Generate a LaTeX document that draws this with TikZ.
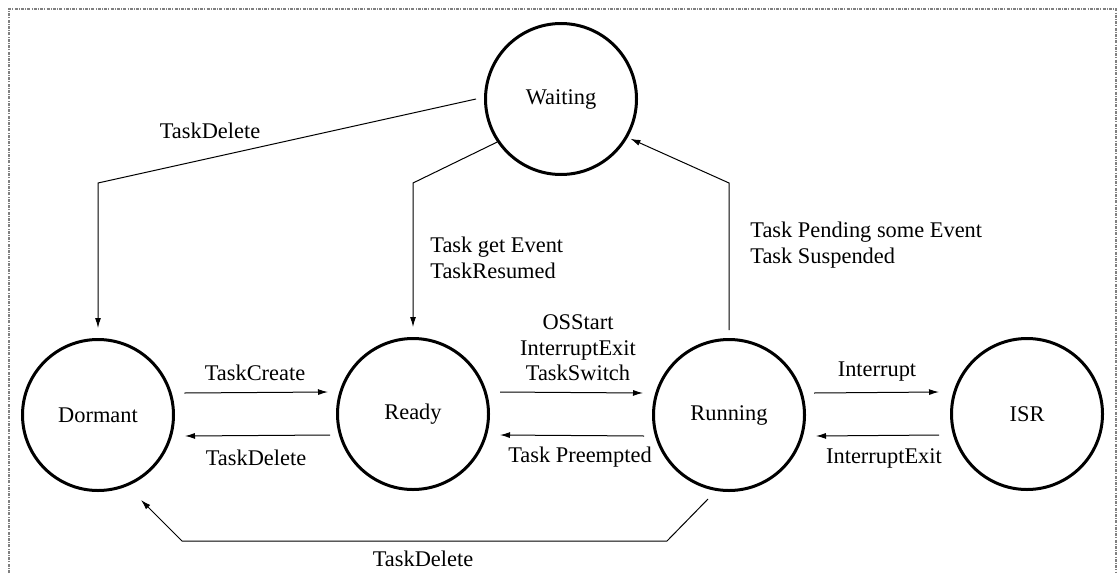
\documentclass[tikz,border=0pt]{standalone}
\usepackage{fontspec}
\setmainfont{Liberation Serif}
\usetikzlibrary{arrows.meta}
\begin{document}
\begin{tikzpicture}[
x=0.5pt,y=-0.5pt,
font=\fontsize{11.2}{12.8}\selectfont,
state/.style={draw,circle,line width=1.5pt,minimum size=75.5pt,inner sep=0pt},
trans/.style={line width=0.5pt,-{Latex[length=5pt,width=3pt]}},
lbl/.style={inner sep=1pt},
frame/.style={gray,line width=0.8pt,dash pattern=on 1.5pt off 0.6pt on 0.5pt off 0.6pt}
]
\useasboundingbox (0,0) rectangle (1118,573);
\draw[frame] (9,573) -- (9,9) -- (1116,9) -- (1116,573);

% states
\node[state] (waiting) at (561,99) {Waiting};
\node[state] (dormant) at (98,415) {Dormant};
\node[state] (ready) at (413,414) {Ready};
\node[state] (running) at (729,415) {Running};
\node[state] (isr) at (1027,414) {ISR};

% corners of the bent connectors
\coordinate (kdel) at (98,183);
\coordinate (kget) at (413,183);
\coordinate (kpend) at (729,183);
\coordinate (kbotr) at (667,541);
\coordinate (kbotl) at (182,541);

% connectors
\draw[trans] ([xshift=-4pt]waiting.west) -- (kdel) -- ([yshift=5pt]dormant.north);
\draw[trans] (waiting.214) -- (kget) -- ([yshift=5pt]ready.north);
\draw[trans,shorten >=1.5pt] ([yshift=4pt]running.north) -- (kpend) -- (waiting.330);
\draw[trans] ([xshift=4.7pt,yshift=11pt]dormant.east) -- ([xshift=-4pt,yshift=11pt]ready.west);
\draw[trans] ([xshift=-3pt,yshift=-10.5pt]ready.west) -- ([xshift=5pt,yshift=-10.5pt]dormant.east);
\draw[trans] ([xshift=5pt,yshift=11pt]ready.east) -- ([xshift=-4.5pt,yshift=11pt]running.west);
\draw[trans] ([xshift=-4pt,yshift=-10.5pt]running.west) -- ([xshift=5pt,yshift=-10.5pt]ready.east);
\draw[trans] ([xshift=4pt,yshift=11pt]running.east) -- ([xshift=-5.5pt,yshift=11pt]isr.west);
\draw[trans] ([xshift=-5.5pt,yshift=-10.5pt]isr.west) -- ([xshift=5pt,yshift=-10.5pt]running.east);
\draw[trans] ([xshift=-10.5pt,yshift=-3.5pt]running.south) -- (kbotr) -- (kbotl)
  -- ([xshift=21.5pt,yshift=-4pt]dormant.south);

% labels
\node[lbl] (ldelw) at (210,131) {TaskDelete};
\node[lbl,anchor=west,align=left] (lget) at (428,258) {Task get Event\\TaskResumed};
\node[lbl,anchor=west,align=left] (lpend) at (748,245) {Task Pending some Event\\Task Suspended};
\node[lbl] (lcreate) at (255,373) {TaskCreate};
\node[lbl] (ldelr) at (256,458) {TaskDelete};
\node[lbl,align=center] (lstart) at (578,348) {OSStart\\InterruptExit\\TaskSwitch};
\node[lbl] (lpre) at (580,457) {Task Preempted};
\node[lbl] (lint) at (877,372) {Interrupt};
\node[lbl] (lexit) at (884,458) {InterruptExit};
\node[lbl] (ldelb) at (423,559) {TaskDelete};
\end{tikzpicture}
\end{document}
